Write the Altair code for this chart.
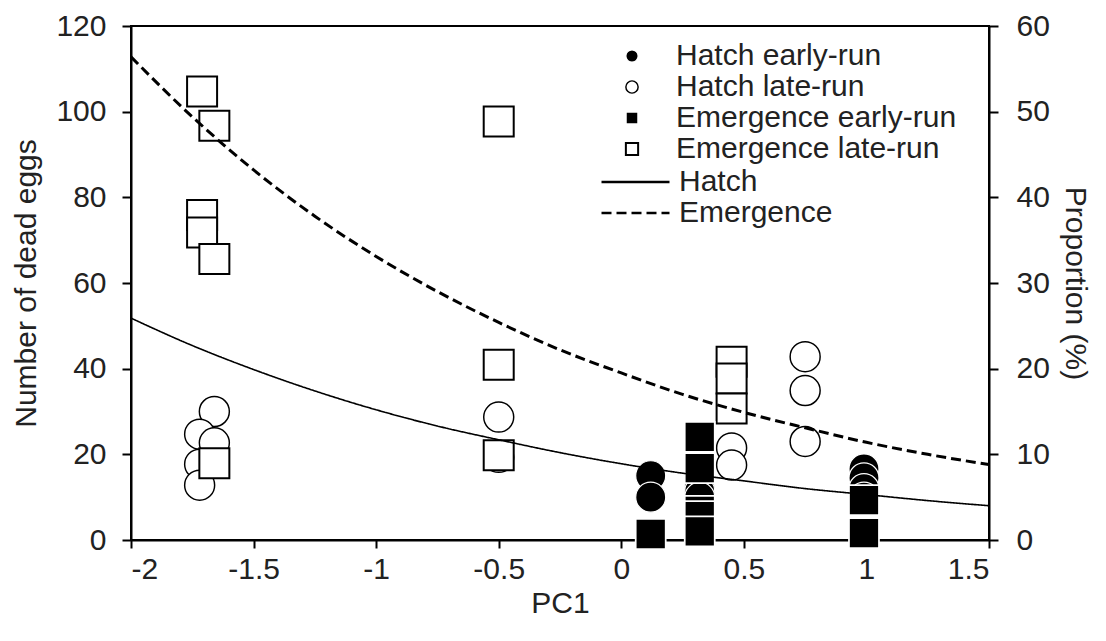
import altair as alt
import pandas as pd

# ---- data ----
# Hatch early-run (filled circles)
he_x = [0.12, 0.12, 0.32, 0.32, 0.32, 0.99, 0.99, 0.99, 0.99]
he_y = [15.0, 10.0, 12.6, 11.4, 10.0, 16.6, 14.5, 12.0, 10.0]
# Hatch late-run (open circles)
hl_x = [-1.66, -1.72, -1.66, -1.72, -1.72, -0.5, -0.5, 0.45, 0.45, 0.75, 0.75, 0.75]
hl_y = [30.0, 24.7, 22.7, 17.7, 12.8, 28.7, 19.3, 21.5, 17.5, 42.8, 34.9, 23.0]
# Emergence early-run (filled squares)
ee_x = [0.12, 0.32, 0.32, 0.32, 0.32, 0.32, 0.99, 0.99]
ee_y = [1.4, 24.1, 16.8, 6.8, 5.6, 2.0, 9.3, 1.6]
# Emergence late-run (open squares)
el_x = [-1.71, -1.66, -1.71, -1.71, -1.66, -1.66, -0.5, -0.5, -0.5, 0.45, 0.45, 0.45]
el_y = [104.7, 96.7, 75.9, 71.8, 65.6, 17.9, 97.7, 40.9, 19.8, 41.6, 37.7, 30.7]

# Fitted curves (proportion, %)
curve_x = [-2.0, -1.75, -1.5, -1.25, -1.0, -0.75, -0.5, -0.25, 0.0, 0.25, 0.5, 0.75, 1.0, 1.25, 1.5]
emergence_pct = [56.4, 49.4, 43.2, 37.8, 33.1, 29.0, 25.4, 22.2, 19.5, 17.0, 14.9, 13.1, 11.4, 10.0, 8.8]
hatch_pct = [25.9, 22.7, 19.9, 17.4, 15.2, 13.3, 11.7, 10.2, 8.9, 7.8, 6.9, 6.0, 5.3, 4.6, 4.0]

series_names = ["Hatch early-run", "Hatch late-run", "Emergence early-run", "Emergence late-run"]
curve_names = ["Hatch", "Emergence"]
x_ticks = [-2, -1.5, -1, -0.5, 0, 0.5, 1, 1.5]
left_ticks = [0, 20, 40, 60, 80, 100, 120]
right_ticks = [0, 10, 20, 30, 40, 50, 60]

# ---- tables ----
rows = []
for name, xs, ys in [("Hatch late-run", hl_x, hl_y), ("Emergence late-run", el_x, el_y),
                     ("Hatch early-run", he_x, he_y), ("Emergence early-run", ee_x, ee_y)]:
    for a, b in zip(xs, ys):
        rows.append({"series": name, "pc1": a, "eggs": b})
pts = pd.DataFrame(rows)

crv = pd.DataFrame(
    [{"curve": "Hatch", "pc1": a, "prop": b} for a, b in zip(curve_x, hatch_pct)]
    + [{"curve": "Emergence", "pc1": a, "prop": b} for a, b in zip(curve_x, emergence_pct)]
)

FONT = "Liberation Sans"
FS = 30
INK = "#222222"

x_scale = alt.Scale(domain=[-2, 1.5], nice=False, zero=False)
x_axis = alt.Axis(title="PC1", values=x_ticks, labelExpr="'' + datum.value", tickSize=8,
                  labelPadding=6, titlePadding=4)

pt_legend = alt.Legend(title=None, orient="none", legendX=486, legendY=15, labelFontSize=FS,
                       labelFont=FONT, labelColor=INK, symbolSize=150, symbolStrokeWidth=2,
                       labelOffset=29, padding=0, rowPadding=1, clipHeight=30, labelLimit=500)

points = alt.Chart(pts).mark_point(filled=True, size=900, opacity=1).encode(
    x=alt.X("pc1:Q", scale=x_scale, axis=x_axis),
    y=alt.Y("eggs:Q", scale=alt.Scale(domain=[0, 120], nice=False),
            axis=alt.Axis(title="Number of dead eggs", values=left_ticks, orient="left",
                          tickSize=9, labelPadding=16, titlePadding=14)),
    shape=alt.Shape("series:N", scale=alt.Scale(domain=series_names,
                    range=["circle", "circle", "square", "square"]), legend=pt_legend),
    fill=alt.Fill("series:N", scale=alt.Scale(domain=series_names,
                  range=["black", "white", "black", "white"]), legend=pt_legend),
    stroke=alt.Stroke("series:N", scale=alt.Scale(domain=series_names,
                      range=["white", "black", "white", "black"]), legend=pt_legend),
    strokeWidth=alt.StrokeWidth("series:N", scale=alt.Scale(domain=series_names,
                                range=[1.2, 2, 1.2, 2]), legend=None),
)

ln_legend = alt.Legend(title=None, orient="none", legendX=469, legendY=141, labelFontSize=FS,
                       labelFont=FONT, labelColor=INK, symbolType="stroke",
                       symbolSize=68 * 68, symbolStrokeWidth=2.5, symbolStrokeColor="black",
                       labelOffset=8, padding=0, rowPadding=1, clipHeight=30, labelLimit=500)

dash = alt.StrokeDash("curve:N", scale=alt.Scale(domain=curve_names, range=[[1, 0], [10, 5]]),
                      legend=ln_legend)
y_right = alt.Y("prop:Q", scale=alt.Scale(domain=[0, 60], nice=False),
                axis=alt.Axis(title="Proportion (%)", values=right_ticks, orient="right",
                              tickSize=9, labelPadding=18, titlePadding=10))

hatch_line = alt.Chart(crv).transform_filter(alt.datum.curve == "Hatch").mark_line(
    color="black", strokeWidth=1.6, interpolate="monotone").encode(
    x=alt.X("pc1:Q", scale=x_scale), y=y_right, strokeDash=dash)
em_line = alt.Chart(crv).transform_filter(alt.datum.curve == "Emergence").mark_line(
    color="black", strokeWidth=3, interpolate="monotone").encode(
    x=alt.X("pc1:Q", scale=x_scale), y=y_right, strokeDash=dash)

lines = alt.layer(hatch_line, em_line)

chart = alt.layer(points, lines).resolve_scale(y="independent").properties(
    width=858, height=514,
    autosize=alt.AutoSizeParams(type="none"),
    padding={"left": 131, "top": 26, "right": 117, "bottom": 101},
    background="white",
).configure_view(stroke="black", strokeWidth=2).configure_axis(
    grid=False, domainColor="black", domainWidth=2, tickColor="black", tickWidth=2,
    labelFont=FONT, labelFontSize=FS, labelColor=INK,
    titleFont=FONT, titleFontSize=FS, titleColor=INK, titleFontWeight="normal",
)

chart.save("out.html", embed_options={"renderer": "svg", "actions": False})
